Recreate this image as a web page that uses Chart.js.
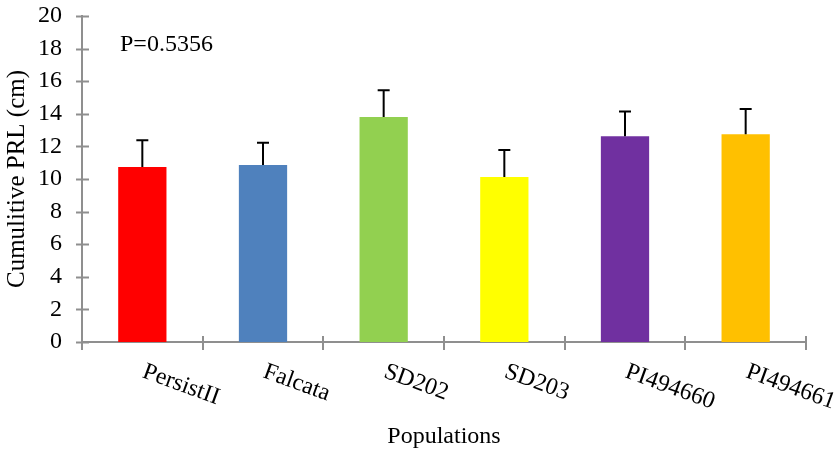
<!DOCTYPE html>
<html>
<head>
<meta charset="utf-8">
<script src="https://cdn.jsdelivr.net/npm/chart.js@4"></script>
<style>
  html, body { margin: 0; padding: 0; background: #ffffff; }
  #wrap { width: 837px; height: 454px; position: relative; }
</style>
</head>
<body>
<div id="wrap"><canvas id="c"></canvas></div>
<script>
// Populations and their cumulative PRL (cm): mean and standard error
const populations = ['PersistII', 'Falcata', 'SD202', 'SD203', 'PI494660', 'PI494661'];
const meanPRL = [10.73, 10.86, 13.80, 10.12, 12.63, 12.75];
const errPRL = [1.64, 1.36, 1.65, 1.66, 1.51, 1.54];
const barColors = ['#FF0000', '#4F81BD', '#92D050', '#FFFF00', '#7030A0', '#FFC000'];
const yTicks = [0, 2, 4, 6, 8, 10, 12, 14, 16, 18, 20];
const pLabel = 'P=0.5356';

const SERIF = "'Liberation Serif', 'Times New Roman', serif";
const AXIS_GREY = '#8f8f8f';

// Error bars (upper only), cross tick marks, slanted category labels and the P-value note
const decorations = {
  id: 'decorations',
  afterDatasetsDraw(chart) {
    const { ctx, scales: { x, y } } = chart;
    const meta = chart.getDatasetMeta(0);
    ctx.save();

    // error bars
    ctx.strokeStyle = '#000000';
    ctx.lineWidth = 2;
    meta.data.forEach((bar, i) => {
      const top = y.getPixelForValue(meanPRL[i] + errPRL[i]);
      const base = y.getPixelForValue(meanPRL[i]);
      ctx.beginPath();
      ctx.moveTo(bar.x, base);
      ctx.lineTo(bar.x, top);
      ctx.moveTo(bar.x - 6, top);
      ctx.lineTo(bar.x + 6, top);
      ctx.stroke();
    });

    // tick marks crossing both axes
    ctx.strokeStyle = AXIS_GREY;
    ctx.lineWidth = 2;
    const ax = x.left;
    yTicks.forEach(v => {
      const py = Math.round(y.getPixelForValue(v)) + 0.5;
      ctx.beginPath();
      ctx.moveTo(ax - 6, py);
      ctx.lineTo(ax + 7, py);
      ctx.stroke();
    });
    const ay = y.bottom;
    for (let i = 0; i <= populations.length; i++) {
      const px = Math.round(x.getPixelForValue(i - 0.5));
      ctx.beginPath();
      ctx.moveTo(px, ay - 6);
      ctx.lineTo(px, ay + 8);
      ctx.stroke();
    }

    // slanted category labels
    ctx.fillStyle = '#000000';
    ctx.font = '24px ' + SERIF;
    ctx.textAlign = 'left';
    ctx.textBaseline = 'alphabetic';
    populations.forEach((name, i) => {
      const cx = x.getPixelForValue(i);
      ctx.save();
      ctx.translate(cx - 1, ay + 35);
      ctx.rotate(20 * Math.PI / 180);
      ctx.fillText(name, 0, 0);
      ctx.restore();
    });

    // P-value note
    ctx.fillText(pLabel, x.left + 38, y.getPixelForValue(18) + 2);
    ctx.restore();
  }
};

new Chart(document.getElementById('c'), {
  type: 'bar',
  data: {
    labels: populations,
    datasets: [{
      data: meanPRL,
      backgroundColor: barColors,
      borderWidth: 0,
      categoryPercentage: 1.0,
      barPercentage: 0.4
    }]
  },
  options: {
    responsive: true,
    maintainAspectRatio: false,
    animation: false,
    layout: { padding: { top: 0, right: 31, left: 0, bottom: 0 } },
    plugins: { legend: { display: false }, tooltip: { enabled: false } },
    scales: {
      x: {
        grid: { display: false, drawTicks: false },
        border: { display: true, color: AXIS_GREY, width: 2 },
        ticks: { display: false },
        title: {
          display: true,
          text: 'Populations',
          color: '#000000',
          font: { family: SERIF, size: 24 },
          padding: { top: 0, bottom: 3 }
        },
        afterFit(scale) { scale.height = 112; }
      },
      y: {
        min: 0,
        max: 20,
        grid: { display: false, drawTicks: false },
        border: { display: true, color: AXIS_GREY, width: 2 },
        ticks: {
          stepSize: 2,
          autoSkip: false,
          padding: 20,
          color: '#000000',
          font: { family: SERIF, size: 24 }
        },
        title: {
          display: true,
          text: 'Cumulitive PRL (cm)',
          color: '#000000',
          font: { family: SERIF, size: 25 },
          padding: { top: 2, bottom: 0 }
        },
        afterFit(scale) {
          scale.width = 82;
          scale.paddingTop = 16;
          scale.paddingBottom = 0;
        }
      }
    }
  },
  plugins: [decorations]
});
</script>
</body>
</html>
